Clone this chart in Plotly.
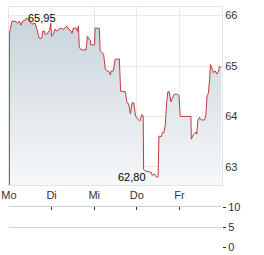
import plotly.graph_objects as go

# ---- data ----
days = [0.01, 0.07, 0.14, 0.20, 0.24, 0.28, 0.32, 0.38, 0.41, 0.45,
        0.53, 0.61, 0.65, 0.71, 0.77, 0.79, 0.83, 0.85, 0.89, 0.95,
        0.98, 1.00, 1.04, 1.08, 1.12, 1.20, 1.28, 1.36, 1.40, 1.44,
        1.48, 1.51, 1.58, 1.61, 1.63, 1.65, 1.71, 1.81, 1.84, 1.87,
        1.91, 1.92, 2.01, 2.02, 2.12, 2.14, 2.22, 2.26, 2.30, 2.34,
        2.38, 2.40, 2.45, 2.49, 2.59, 2.62, 2.73, 2.77, 2.81, 2.85,
        2.89, 2.93, 2.97, 3.03, 3.07, 3.12, 3.15, 3.16, 3.20, 3.34,
        3.36, 3.41, 3.46, 3.50, 3.52, 3.58, 3.60, 3.64, 3.67, 3.70,
        3.73, 3.76, 3.80, 3.84, 3.88, 3.96, 3.99, 4.02, 4.27, 4.28,
        4.32, 4.35, 4.39, 4.41, 4.43, 4.47, 4.51, 4.59, 4.62, 4.65,
        4.68, 4.71, 4.73, 4.76, 4.80, 4.84, 4.88, 4.92, 4.94, 4.98]
prices = [65.65, 65.89, 65.89, 65.85, 65.89, 65.81, 65.89, 65.91, 65.95, 65.93,
          65.83, 65.85, 65.75, 65.55, 65.55, 65.69, 65.69, 65.63, 65.63, 65.71,
          65.85, 65.59, 65.63, 65.73, 65.69, 65.75, 65.73, 65.79, 65.73, 65.71,
          65.65, 65.75, 65.75, 65.69, 65.79, 65.36, 65.32, 65.32, 65.59, 65.55,
          65.50, 65.42, 65.42, 65.75, 65.75, 65.30, 65.24, 64.94, 64.90, 64.90,
          64.82, 64.90, 64.90, 65.13, 65.14, 64.50, 64.49, 64.27, 64.25, 64.05,
          64.27, 64.27, 64.01, 63.94, 63.91, 64.04, 64.01, 62.95, 62.92, 62.89,
          62.83, 62.86, 62.80, 62.80, 63.61, 63.60, 63.68, 63.68, 63.85, 64.27,
          64.49, 64.49, 64.29, 64.37, 64.44, 64.44, 64.41, 64.00, 64.00, 63.55,
          63.63, 63.65, 63.69, 63.65, 63.91, 63.98, 63.93, 63.93, 64.01, 64.41,
          64.46, 64.75, 65.03, 64.96, 64.87, 64.90, 64.84, 64.90, 64.99, 64.97]
day_labels = ["Mo", "Di", "Mi", "Do", "Fr"]
day_ticks = [0, 1, 2, 3, 4]
price_ticks = [63, 64, 65, 66]
volume_ticks = [0, 5, 10]
price_range = [62.64, 66.17]
high_label = "65,95"
low_label = "62,80"

FONT = "Liberation Sans, Arial, sans-serif"
TXT = "#333333"

fig = go.Figure()
fig.add_trace(go.Scatter(
    x=days, y=prices, mode="lines",
    line=dict(color="#c4393c", width=1),
    fill="tozeroy",
    fillgradient=dict(type="vertical", start=price_range[0], stop=price_range[1],
                      colorscale=[[0, "#f6f8f9"], [1, "#c6d1da"]]),
    hoverinfo="skip", xaxis="x", yaxis="y"))

# empty volume panel
fig.add_trace(go.Scatter(x=[None], y=[None], xaxis="x2", yaxis="y2", showlegend=False))

# vertical start of the line down to axis bottom
fig.add_shape(type="line", xref="x", yref="y", x0=days[0], x1=days[0],
              y0=price_range[0], y1=prices[0], line=dict(color="#c4393c", width=1))

imax = prices.index(max(prices))
imin = prices.index(min(prices))
fig.add_annotation(x=days[imax], y=prices[imax], text=high_label, showarrow=False,
                   xanchor="left", yanchor="middle", xshift=0,
                   font=dict(family=FONT, size=11, color="#000000"))
fig.add_annotation(x=days[imin], y=prices[imin], text=low_label, showarrow=False,
                   xanchor="right", yanchor="middle", xshift=-8,
                   font=dict(family=FONT, size=11, color="#000000"))

fig.update_layout(
    width=264, height=255, margin=dict(l=0, r=0, t=0, b=0, autoexpand=False),
    paper_bgcolor="white", plot_bgcolor="white", showlegend=False,
    font=dict(family=FONT, size=11, color=TXT),
    xaxis=dict(domain=[9/264, 222/264], range=[0, 5], anchor="y", automargin=False,
               tickvals=day_ticks, ticktext=day_labels, ticks="",
               showgrid=True, gridcolor="#e8e8e8", gridwidth=1,
               showline=True, linecolor="#e4e4e4", mirror=True, zeroline=False),
    yaxis=dict(domain=[70/255, 248/255], range=price_range, side="right", anchor="x",
               automargin=False, ticklabelstandoff=0,
               tickvals=price_ticks, ticks="", showgrid=True, gridcolor="#e8e8e8",
               showline=True, linecolor="#e4e4e4", mirror=True, zeroline=False),
    xaxis2=dict(domain=[9/264, 222/264], range=[0, 5], anchor="y2", side="top",
                automargin=False,
                tickvals=day_ticks, showticklabels=False, ticks="inside", ticklen=3,
                tickcolor="#333333", showgrid=False, showline=True, linecolor="#cccccc",
                zeroline=False),
    yaxis2=dict(domain=[8/255, 48/255], range=[0, 10], side="right", anchor="x2",
                automargin=False, ticklabelstandoff=0,
                tickvals=volume_ticks, ticks="outside", ticklen=3, tickcolor="#333333",
                showgrid=True, gridcolor="#d4d4d4", zeroline=False, showline=False),
)

fig.write_html("out.html")
